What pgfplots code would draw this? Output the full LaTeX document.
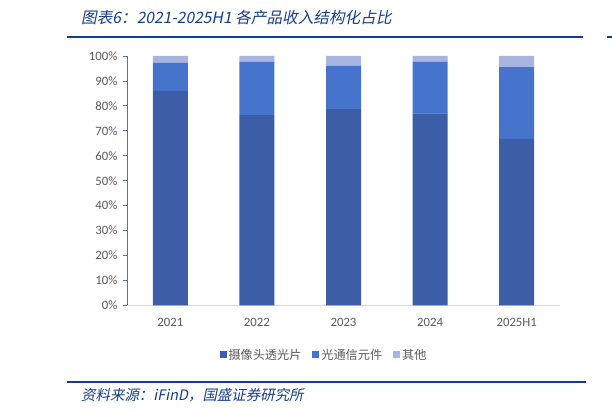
\documentclass[border=0pt]{standalone}
\usepackage{fontspec}
\usepackage{pgfplots}
\pgfplotsset{compat=1.18}
\setmainfont{Carlito}
\newfontfamily\cjk{Noto Sans CJK SC}
\newfontfamily\cjkit{Noto Sans CJK SC}[FakeSlant=0.2]

\definecolor{cDark}{RGB}{59,94,167}
\definecolor{cMid}{RGB}{70,116,204}
\definecolor{cLight}{RGB}{168,180,224}
\definecolor{tickgray}{RGB}{89,89,89}
\definecolor{navy}{RGB}{20,60,145}
\definecolor{yaxblue}{RGB}{68,114,196}

\begin{document}
\begin{tikzpicture}
  \path[use as bounding box] (0bp,0bp) rectangle (612bp,414bp);

  % title and rules
  \node[anchor=west, text=navy, font=\cjkit\fontsize{15.7}{18}\selectfont, inner sep=0]
    at (81bp,396bp) {图表6：2021-2025H1 各产品收入结构化占比};
  \draw[navy, line width=2.5bp] (67bp,377bp) -- (583bp,377bp);
  \draw[navy, line width=2.5bp] (607bp,377bp) -- (612bp,377bp);
  \draw[navy, line width=2bp] (67bp,31.5bp) -- (586bp,31.5bp);
  \node[anchor=west, text=navy, font=\cjkit\fontsize{14.5}{17}\selectfont, inner sep=0]
    at (81bp,19bp) {资料来源：iFinD，国盛证券研究所};

  \begin{axis}[
      at={(127bp,108.5bp)}, anchor=south west,
      scale only axis,
      width=433bp, height=249.5bp,
      ybar stacked,
      bar width=35bp,
      xmin=-0.5, xmax=4.5,
      ymin=0, ymax=100,
      xtick={0,1,2,3,4},
      xticklabels={2021,2022,2023,2024,2025H1},
      ytick={0,10,20,30,40,50,60,70,80,90,100},
      yticklabel={\pgfmathprintnumber{\tick}\%},
      /pgf/number format/assume math mode=true,
      axis x line*=bottom,
      axis y line*=left,
      x axis line style={draw=black!15, line width=0.8bp},
      y axis line style={draw=yaxblue, line width=0.8bp},
      xtick style={draw=none},
      ytick style={draw=yaxblue, line width=0.8bp},
      tick align=outside,
      major tick length=4bp,
      ticklabel style={font=\fontsize{12.8}{15}\selectfont, text=tickgray},
      xticklabel style={yshift=-5bp},
      yticklabel style={xshift=-2bp},
      legend image code/.code={\fill[#1] (0bp,-3.5bp) rectangle (7bp,3.5bp);},
      legend style={at={(0.455,-0.198)}, anchor=center, draw=none,
        legend columns=3, font=\cjk\fontsize{12.2}{14}\selectfont, text=tickgray,
        /tikz/every even column/.append style={column sep=9bp},
        legend cell align=left, inner sep=0pt},
    ]
    \addplot[fill=cDark, draw=none] coordinates {(0,86.0) (1,76.3) (2,78.7) (3,77.0) (4,66.8)};
    \addplot[fill=cMid, draw=none] coordinates {(0,11.2) (1,21.3) (2,17.3) (3,20.6) (4,28.7)};
    \addplot[fill=cLight, draw=none] coordinates {(0,2.8) (1,2.4) (2,4.0) (3,2.4) (4,4.5)};
    \legend{摄像头透光片,光通信元件,其他}
  \end{axis}
\end{tikzpicture}
\end{document}
